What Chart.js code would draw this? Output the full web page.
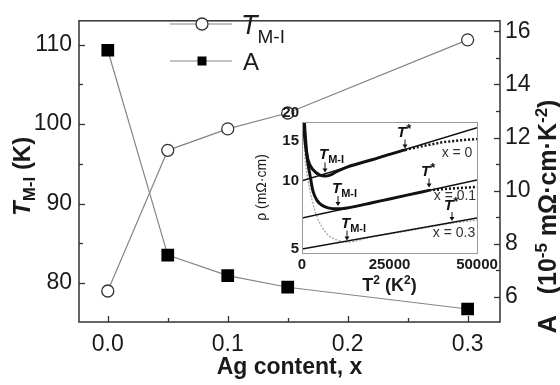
<!DOCTYPE html>
<html>
<head>
<meta charset="utf-8">
<script src="https://cdn.jsdelivr.net/npm/chart.js@4.4.1/dist/chart.umd.min.js"></script>
<style>
  html, body { margin: 0; padding: 0; background: #fff; }
  #wrap { position: relative; width: 560px; height: 385px; }
  #mainChart { position: absolute; left: 0; top: 0; }
  #insetChart { position: absolute; left: 250px; top: 100px; }
</style>
</head>
<body>
<div id="wrap">
  <canvas id="mainChart" width="560" height="385"></canvas>
  <canvas id="insetChart" width="275" height="200"></canvas>
</div>
<script>
// ===============================
//  DATA (main plot)
// ===============================
const agContent = [0, 0.05, 0.1, 0.15, 0.3];
const tMI = [79.0, 96.7, 99.4, 101.4, 110.6];        // K
const coeffA = [15.29, 7.57, 6.8, 6.36, 5.54];       // 10^-5 mOhm cm K^-2

// ===============================
//  DATA (inset: rho vs T^2)
// ===============================
const fitT2 = [0, 50000];
const fitX0 = [10.0, 17.15];
const fitX01 = [6.86, 10.1];
const fitX03 = [5.0, 6.85];

const x0T2 = [300, 860, 1714, 3140, 5143, 6571, 8000, 10000, 12860, 20000, 25000, 29430];
const x0Rho = [19.0, 15.0, 12.4, 11.2, 10.6, 10.5, 10.6, 11.0, 11.5, 12.4, 13.1, 13.7];
const x0DotT2 = [29430, 35000, 40000, 45000, 50000];
const x0DotRho = [13.7, 14.3, 14.8, 15.1, 15.3];

const x01T2 = [600, 857, 1428, 2286, 3140, 4286, 5714, 7430, 10000, 12860, 20000, 25000, 30000, 36300];
const x01Rho = [19.0, 16.5, 12.8, 10.6, 9.0, 8.2, 7.8, 7.6, 7.52, 7.59, 8.0, 8.32, 8.65, 9.08];
const x01DotT2 = [36300, 43000, 50000];
const x01DotRho = [9.08, 9.26, 9.4];

const x03T2 = [286, 857, 1714, 2857, 4286, 5714, 7430, 10000, 12860, 20000, 30000, 42860, 50000];
const x03Rho = [18.2, 12.8, 10.1, 8.24, 6.93, 6.26, 5.77, 5.48, 5.36, 5.66, 6.0, 6.5, 6.7];

const rhoTicks = [5, 10, 15, 20];
const t2Ticks = [0, 25000, 50000];

// annotation anchors (arrow tips) in data units
const tmiT2 = [6571, 10286, 12860];
const tmiRho = [10.9, 7.75, 5.45];
const tStarT2 = [29430, 36300, 42860];
const tStarRho = [13.9, 9.35, 6.65];
const seriesNames = ['x = 0', 'x = 0.1', 'x = 0.3'];
const seriesNameT2 = [44290, 43700, 43430];
const seriesNameRho = [13.43, 8.67, 5.95];

const FONT = "'Liberation Sans', Arial, sans-serif";
const TEXT = '#1a1a1a';

function pts(xs, ys) {
    return xs.map((x, i) => ({ x: x, y: ys[i] }));
}

// draw a run of text pieces [text, font, dy] starting at x (or centred)
function drawRuns(ctx, x, y, runs, centre) {
    let w = 0;
    runs.forEach(r => { ctx.font = r[1]; w += ctx.measureText(r[0]).width; });
    let cx = centre ? x - w / 2 : x;
    runs.forEach(r => {
        ctx.font = r[1];
        ctx.fillText(r[0], cx, y + (r[2] || 0));
        cx += ctx.measureText(r[0]).width;
    });
    return w;
}

function seg(ctx, x1, y1, x2, y2) {
    ctx.beginPath();
    ctx.moveTo(x1, y1);
    ctx.lineTo(x2, y2);
    ctx.stroke();
}

// ===============================
//  MAIN PLOT DECORATION
// ===============================
const mainDecor = {
    id: 'mainDecor',
    afterDatasetsDraw(chart) {
        const { ctx, chartArea: a, scales } = chart;
        ctx.save();
        ctx.strokeStyle = '#333';
        ctx.lineWidth = 1.5;
        ctx.strokeRect(a.left, a.top, a.right - a.left, a.bottom - a.top);

        // ticks pointing inwards
        ctx.lineWidth = 1.3;
        scales.x.ticks.forEach(t => {
            const p = Math.round(scales.x.getPixelForValue(t.value)) + 0.5;
            seg(ctx, p, a.bottom, p, a.bottom - (t.label ? 6 : 4));
        });
        scales.yT.ticks.forEach(t => {
            const p = Math.round(scales.yT.getPixelForValue(t.value)) + 0.5;
            seg(ctx, a.left, p, a.left + (t.label ? 6 : 4), p);
        });
        scales.yA.ticks.forEach(t => {
            const p = Math.round(scales.yA.getPixelForValue(t.value)) + 0.5;
            seg(ctx, a.right, p, a.right - (t.label ? 6 : 4), p);
        });

        // legend
        const ds = chart.data.datasets;
        ctx.strokeStyle = ds[0].borderColor;
        ctx.lineWidth = ds[0].borderWidth;
        seg(ctx, a.left + 91, 24, a.left + 153, 24);
        seg(ctx, a.left + 91, 61, a.left + 153, 61);
        ctx.beginPath();
        ctx.arc(a.left + 123, 24, 6, 0, Math.PI * 2);
        ctx.fillStyle = '#fff';
        ctx.fill();
        ctx.strokeStyle = ds[0].pointBorderColor;
        ctx.lineWidth = ds[0].pointBorderWidth;
        ctx.stroke();
        ctx.fillStyle = '#000';
        ctx.fillRect(a.left + 118.5, 56.5, 9, 9);

        ctx.fillStyle = TEXT;
        ctx.textBaseline = 'alphabetic';
        drawRuns(ctx, a.left + 162, 34, [
            ['T', 'italic 27px ' + FONT, 0],
            ['M-I', '19px ' + FONT, 9]
        ]);
        drawRuns(ctx, a.left + 164, 70, [['A', '24px ' + FONT, 0]]);

        // x title
        ctx.textAlign = 'left';
        drawRuns(ctx, (a.left + a.right) / 2, 374, [['Ag content, x', 'bold 23px ' + FONT, 0]], true);

        // left title (rotated)
        ctx.save();
        ctx.translate(30, (a.top + a.bottom) / 2 + 5);
        ctx.rotate(-Math.PI / 2);
        drawRuns(ctx, 0, 0, [
            ['T', 'italic bold 24px ' + FONT, 0],
            ['M-I', 'bold 17px ' + FONT, 5],
            [' (K)', 'bold 24px ' + FONT, 0]
        ], true);
        ctx.restore();

        // right title (rotated)
        ctx.save();
        ctx.translate(556, (a.top + a.bottom) / 2 + 45);
        ctx.rotate(-Math.PI / 2);
        drawRuns(ctx, 0, 0, [
            ['A   (10', 'bold 25px ' + FONT, 0],
            ['-5', 'bold 17px ' + FONT, -9],
            [' m\u03A9\u00B7cm\u00B7K', 'bold 25px ' + FONT, 0],
            ['-2', 'bold 17px ' + FONT, -9],
            [')', 'bold 25px ' + FONT, 0]
        ], true);
        ctx.restore();
        ctx.restore();
    }
};

const tickFont = { family: FONT, size: 23 };

const mainChart = new Chart(document.getElementById('mainChart'), {
    type: 'line',
    data: {
        datasets: [
            {
                label: 'T M-I',
                data: pts(agContent, tMI),
                yAxisID: 'yT',
                borderColor: '#858585',
                borderWidth: 1.2,
                pointStyle: 'circle',
                pointRadius: 6,
                pointBackgroundColor: '#fff',
                pointBorderColor: '#333',
                pointBorderWidth: 1.3
            },
            {
                label: 'A',
                data: pts(agContent, coeffA),
                yAxisID: 'yA',
                borderColor: '#858585',
                borderWidth: 1.2,
                pointStyle: 'rect',
                pointRadius: 9,
                pointBackgroundColor: '#000',
                pointBorderColor: '#000',
                pointBorderWidth: 0
            }
        ]
    },
    options: {
        responsive: false,
        animation: false,
        layout: { padding: { top: 4, left: 0, right: 0, bottom: 0 } },
        plugins: { legend: { display: false }, tooltip: { enabled: false } },
        scales: {
            x: {
                type: 'linear',
                min: -0.024,
                max: 0.327,
                ticks: {
                    stepSize: 0.05,
                    includeBounds: false,
                    autoSkip: false,
                    maxRotation: 0,
                    padding: 9,
                    color: TEXT,
                    font: tickFont,
                    callback: v => Math.abs(v * 10 - Math.round(v * 10)) < 1e-6 ? Math.abs(v).toFixed(1) : ''
                },
                grid: { display: false, drawTicks: false },
                border: { display: false },
                afterFit(s) { s.height = 63; }
            },
            yT: {
                position: 'left',
                min: 75.1,
                max: 113,
                ticks: {
                    stepSize: 5,
                    includeBounds: false,
                    autoSkip: false,
                    padding: 7,
                    color: TEXT,
                    font: tickFont,
                    callback: v => Math.round(v) % 10 === 0 ? String(Math.round(v)) : ''
                },
                grid: { display: false, drawTicks: false },
                border: { display: false },
                afterFit(s) { s.width = 79; }
            },
            yA: {
                position: 'right',
                min: 5.05,
                max: 16.4,
                ticks: {
                    stepSize: 1,
                    includeBounds: false,
                    autoSkip: false,
                    padding: 5,
                    color: TEXT,
                    font: tickFont,
                    callback: v => Math.round(v) % 2 === 0 ? String(Math.round(v)) : ''
                },
                grid: { display: false, drawTicks: false },
                border: { display: false },
                afterFit(s) { s.width = 60; }
            }
        }
    },
    plugins: [mainDecor]
});

// ===============================
//  INSET DECORATION
// ===============================
function arrowDown(ctx, x, yTip, len) {
    seg(ctx, x, yTip - len, x, yTip - 3);
    ctx.beginPath();
    ctx.moveTo(x - 2.5, yTip - 4);
    ctx.lineTo(x + 2.5, yTip - 4);
    ctx.lineTo(x, yTip);
    ctx.closePath();
    ctx.fill();
}

const insetDecor = {
    id: 'insetDecor',
    beforeDatasetsDraw(chart) {
        const { ctx, chartArea: a } = chart;
        ctx.save();
        ctx.fillStyle = '#fff';
        ctx.fillRect(a.left, a.top, a.right - a.left, a.bottom - a.top);
        ctx.restore();
    },
    afterDatasetsDraw(chart) {
        const { ctx, chartArea: a, scales } = chart;
        ctx.save();
        ctx.strokeStyle = '#9a9a9a';
        ctx.lineWidth = 1;
        ctx.strokeRect(a.left + 0.5, a.top + 0.5, a.right - a.left, a.bottom - a.top);

        ctx.fillStyle = '#111';
        ctx.strokeStyle = '#111';
        ctx.lineWidth = 1;
        ctx.textBaseline = 'alphabetic';
        tmiT2.forEach((t2, i) => {
            const x = scales.x.getPixelForValue(t2);
            const y = scales.y.getPixelForValue(tmiRho[i]);
            arrowDown(ctx, x, y, 10);
            drawRuns(ctx, x - 6, y - 13, [
                ['T', 'italic bold 15px ' + FONT, 0],
                ['M-I', 'bold 11px ' + FONT, 4]
            ]);
        });
        tStarT2.forEach((t2, i) => {
            const x = scales.x.getPixelForValue(t2);
            const y = scales.y.getPixelForValue(tStarRho[i]);
            arrowDown(ctx, x, y, 9);
            drawRuns(ctx, x - 8, y - 11, [
                ['T', 'italic bold 15px ' + FONT, 0],
                ['*', 'bold 13px ' + FONT, -4]
            ]);
        });
        ctx.fillStyle = '#333';
        seriesNames.forEach((s, i) => {
            const x = scales.x.getPixelForValue(seriesNameT2[i]);
            const y = scales.y.getPixelForValue(seriesNameRho[i]);
            drawRuns(ctx, x, y + 5, [[s, '14px ' + FONT, 0]], true);
        });

        // titles
        ctx.fillStyle = TEXT;
        drawRuns(ctx, (a.left + a.right) / 2, a.bottom + 38, [
            ['T', 'bold 18px ' + FONT, 0],
            ['2', 'bold 12px ' + FONT, -7],
            [' (K', 'bold 18px ' + FONT, 0],
            ['2', 'bold 12px ' + FONT, -7],
            [')', 'bold 18px ' + FONT, 0]
        ], true);
        ctx.save();
        ctx.translate(a.left - 36, (a.top + a.bottom) / 2);
        ctx.rotate(-Math.PI / 2);
        drawRuns(ctx, 0, 0, [['\u03C1 (m\u03A9\u00B7cm)', '14px ' + FONT, 0]], true);
        ctx.restore();
        ctx.restore();
    }
};

const insetTickFont = { family: FONT, size: 15, weight: 'bold' };

const insetChart = new Chart(document.getElementById('insetChart'), {
    type: 'line',
    data: {
        datasets: [
            { data: pts(x0T2, x0Rho), borderColor: '#111', borderWidth: 3, pointRadius: 0, cubicInterpolationMode: 'monotone' },
            { data: pts(x0DotT2, x0DotRho), borderColor: '#111', borderWidth: 2.5, borderDash: [2, 2], pointRadius: 0 },
            { data: pts(x01T2, x01Rho), borderColor: '#111', borderWidth: 3, pointRadius: 0, cubicInterpolationMode: 'monotone' },
            { data: pts(x01DotT2, x01DotRho), borderColor: '#111', borderWidth: 2.5, borderDash: [2, 2], pointRadius: 0 },
            { data: pts(fitT2, fitX0), borderColor: '#111', borderWidth: 1.5, pointRadius: 0 },
            { data: pts(fitT2, fitX01), borderColor: '#111', borderWidth: 1.5, pointRadius: 0 },
            { data: pts(fitT2, fitX03), borderColor: '#111', borderWidth: 1.5, pointRadius: 0 },
            { data: pts(x03T2, x03Rho), borderColor: '#a5a5a5', borderWidth: 1.3, borderDash: [2, 1.5], pointRadius: 0, cubicInterpolationMode: 'monotone' }
        ]
    },
    options: {
        responsive: false,
        animation: false,
        layout: { padding: { top: 22, right: 48, left: 0, bottom: 0 } },
        plugins: { legend: { display: false }, tooltip: { enabled: false } },
        scales: {
            x: {
                type: 'linear',
                min: 0,
                max: 50000,
                afterBuildTicks(s) { s.ticks = t2Ticks.map(v => ({ value: v })); },
                ticks: { autoSkip: false, maxRotation: 0, padding: 3, color: TEXT, font: insetTickFont, callback: v => String(v) },
                grid: { display: false, drawTicks: false },
                border: { display: false },
                afterFit(s) { s.height = 47; }
            },
            y: {
                type: 'logarithmic',
                min: 4.8,
                max: 18.2,
                afterBuildTicks(s) { s.ticks = rhoTicks.map(v => ({ value: v })); },
                ticks: { autoSkip: false, padding: 3, color: TEXT, font: insetTickFont, callback: v => String(v) },
                grid: { display: false, drawTicks: false },
                border: { display: false },
                afterFit(s) { s.width = 52; }
            }
        }
    },
    plugins: [insetDecor]
});
</script>
</body>
</html>
